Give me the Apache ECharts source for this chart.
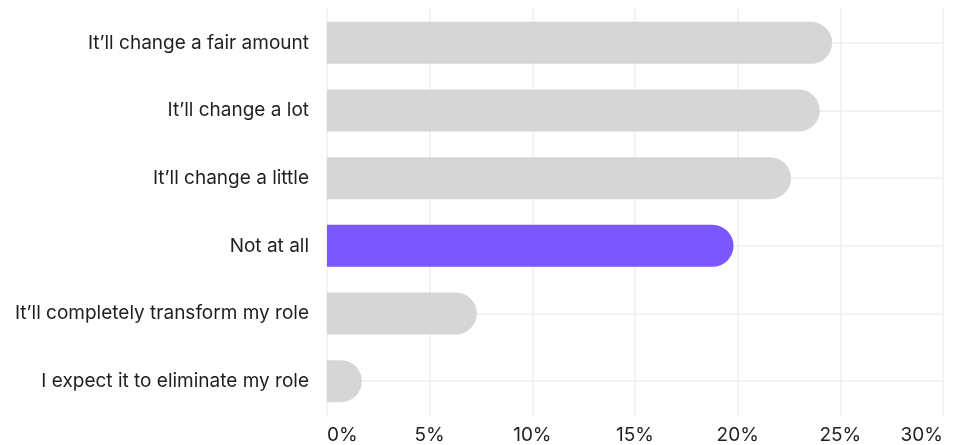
<!DOCTYPE html>
<html>
<head>
<meta charset="utf-8">
<script src="https://cdn.jsdelivr.net/npm/echarts@6/dist/echarts.min.js"></script>
<style>
  html, body { margin: 0; padding: 0; background: #ffffff; }
  #chart { width: 957px; height: 445px; }
</style>
</head>
<body>
<div id="chart"></div>
<script>
// Survey answers, top to bottom
const categories = [
  "It\u2019ll change a fair amount",
  "It\u2019ll change a lot",
  "It\u2019ll change a little",
  "Not at all",
  "It\u2019ll completely transform my role",
  "I expect it to eliminate my role"
];
// Share of respondents (%)
const shares = [24.6, 24.0, 22.6, 19.8, 7.3, 1.7];
// Answer shown in the accent colour
const highlighted = "Not at all";
// Percentage axis ticks
const tickValues = [0, 5, 10, 15, 20, 25, 30];

const GREY = "#d6d6d6";
const ACCENT = "#7b57ff";
const GRID_LINE = "#efeff3";
const TEXT = "#1f1f1f";
const FONT = "Inter, 'Liberation Sans', Arial, sans-serif";

const chart = echarts.init(document.getElementById("chart"), null, { renderer: "canvas" });

chart.setOption({
  animation: false,
  backgroundColor: "#ffffff",
  grid: { left: 327, right: 14, top: 9, bottom: 28, containLabel: false },
  xAxis: {
    type: "value",
    min: tickValues[0],
    max: tickValues[tickValues.length - 1],
    interval: tickValues[1] - tickValues[0],
    axisLine: { show: false },
    axisTick: { show: false },
    splitLine: { show: true, lineStyle: { color: GRID_LINE, width: 1.5 } },
    axisLabel: {
      formatter: v => v + "%",
      color: TEXT,
      fontFamily: FONT,
      fontSize: 19,
      margin: 11,
      alignMinLabel: "left",
      alignMaxLabel: "right"
    }
  },
  yAxis: {
    type: "category",
    inverse: true,
    data: categories,
    axisLine: { show: false },
    axisTick: { show: false },
    splitLine: { show: true, alignWithLabel: true, lineStyle: { color: GRID_LINE, width: 1.5 } },
    axisLabel: {
      color: TEXT,
      fontFamily: FONT,
      fontSize: 19,
      margin: 18
    }
  },
  series: [{
    type: "bar",
    barWidth: 42,
    data: shares.map((v, i) => ({
      value: v,
      itemStyle: { color: categories[i] === highlighted ? ACCENT : GREY }
    })),
    itemStyle: { borderRadius: [0, 21, 21, 0] }
  }]
});
</script>
</body>
</html>
